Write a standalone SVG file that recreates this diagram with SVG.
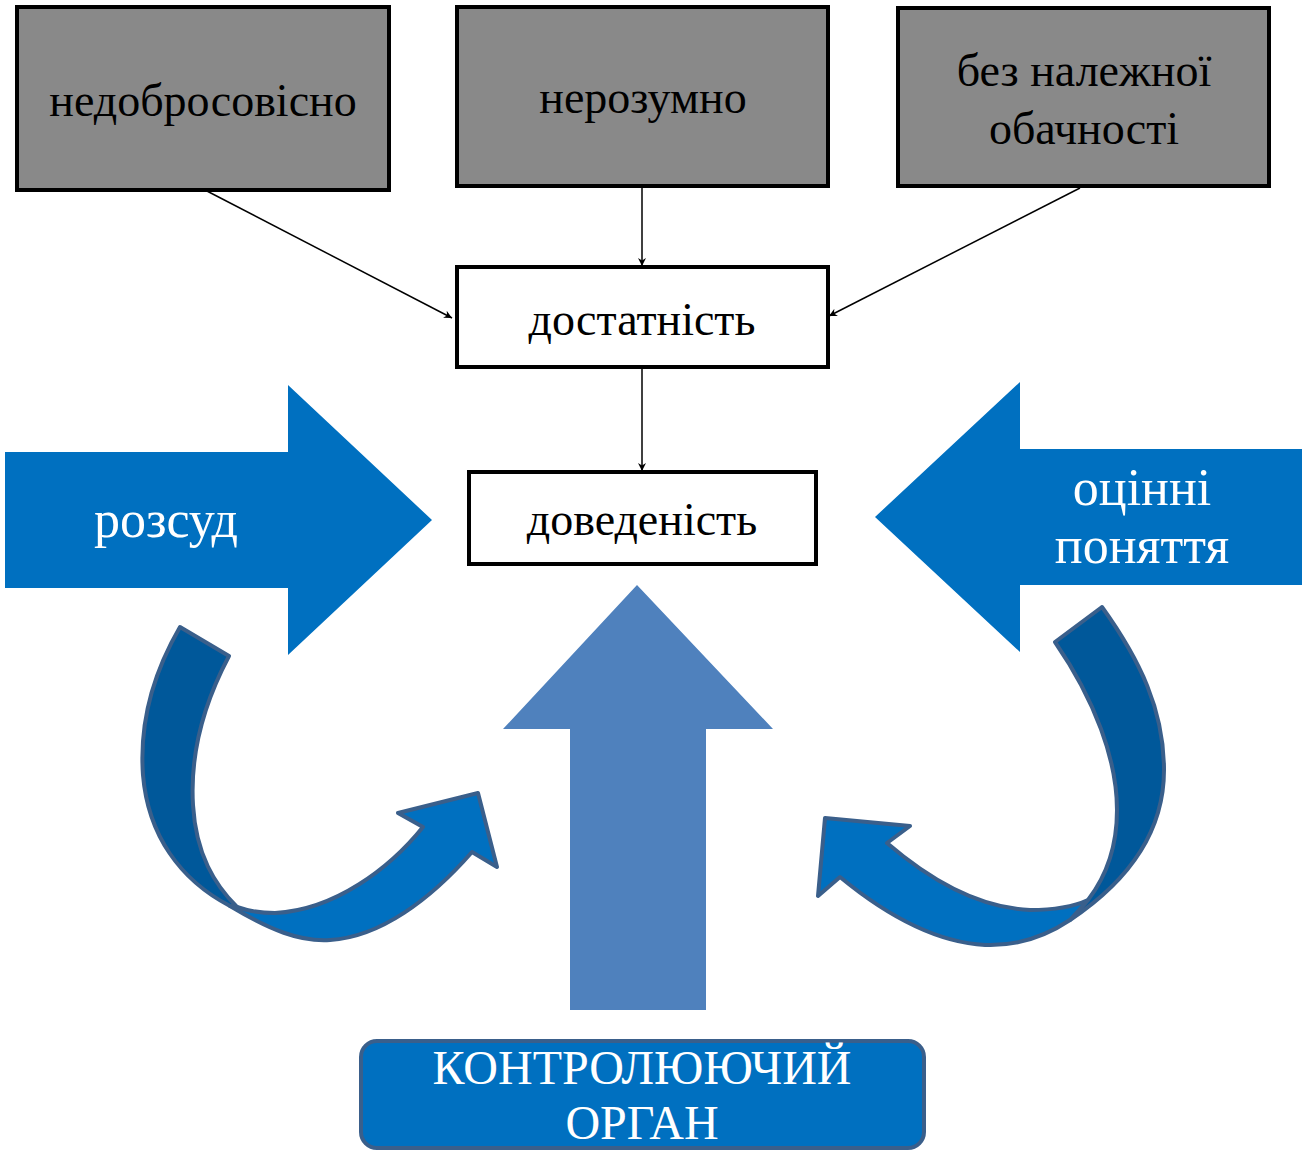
<svg xmlns="http://www.w3.org/2000/svg" width="1305" height="1153" viewBox="0 0 1305 1153">
<style>
.gray{fill:#898989;stroke:#000;stroke-width:4}
.white{fill:#fff;stroke:#000;stroke-width:4}
.t{font-family:"Liberation Serif","Times New Roman",serif;font-size:46px;fill:#000;text-anchor:middle}
.tw{font-family:"Liberation Serif","Times New Roman",serif;font-size:52px;fill:#fff;text-anchor:middle}
.tb{font-family:"Liberation Serif","Times New Roman",serif;font-size:48px;fill:#fff;text-anchor:middle}
.con{stroke:#000;stroke-width:1.5;fill:none;marker-end:url(#ah)}
.band{fill:#00589A;stroke:#3A5F8B;stroke-width:4;stroke-linejoin:round}
.curve{fill:#0070C0;stroke:#3A5F8B;stroke-width:4;stroke-linejoin:round}
</style>
<defs>
<marker id="ah" viewBox="0 0 10 10" refX="10" refY="5" markerWidth="8" markerHeight="8" markerUnits="userSpaceOnUse" orient="auto">
<path d="M0,0 L10,5 L0,10 L3,5 Z" fill="#000"/>
</marker>
</defs>
<g id="node-nedobrosovisno"><rect class="gray" x="17" y="7" width="372" height="183"/><text class="t" x="203" y="116">недобросовісно</text></g>
<g id="node-nerozumno"><rect class="gray" x="457" y="7" width="371" height="179"/><text class="t" x="643" y="113">нерозумно</text></g>
<g id="node-bez"><rect class="gray" x="898" y="8" width="371" height="178"/><text class="t" x="1084" y="86">без належної</text><text class="t" x="1084" y="144">обачності</text></g>
<g id="node-dostatnist"><rect class="white" x="457" y="267" width="371" height="100"/><text class="t" x="642" y="335">достатність</text></g>
<g id="node-dovedenist"><rect class="white" x="469" y="472" width="347" height="92"/><text class="t" x="642" y="535">доведеність</text></g>
<g id="connectors">
<line class="con" x1="205" y1="190" x2="452" y2="318"/>
<line class="con" x1="642" y1="186" x2="642" y2="266"/>
<line class="con" x1="1080" y1="188" x2="829" y2="316"/>
<line class="con" x1="642" y1="367" x2="642" y2="471"/>
</g>
<g id="node-rozsud"><path d="M5,452 L288,452 L288,385 L432,520 L288,655 L288,588 L5,588 Z" fill="#0070C0"/><text class="tw" x="166" y="537">розсуд</text></g>
<g id="node-otsinni"><path d="M1302,449 L1020,449 L1020,382 L875,517 L1020,652 L1020,585 L1302,585 Z" fill="#0070C0"/><text class="tw" x="1142" y="505">оцінні</text><text class="tw" x="1142" y="563">поняття</text></g>
<g id="node-up"><path d="M570,1010 L570,729 L503,729 L637,585 L773,729 L706,729 L706,1010 Z" fill="#4F81BD"/></g>
<g id="node-curve-left">
<path class="band" d="M180,627 L229,656 C203,705 190,755 193,805 C196,855 215,885 237,907 L230,906 C180,880 148,835 143,775 C139,720 155,670 180,627 Z"/>
<path class="curve" d="M230,906 C270,930 300,942 330,940 C380,937 430,900 472,852 L497,867 L478,793 L398,813 L423,827 C390,868 335,910 275,913 C260,913 248,911 237,907 Z"/>
</g>
<g id="node-curve-right">
<path class="band" d="M1102,607 L1055,642 C1095,700 1117,760 1117,810 C1117,850 1105,878 1088,900 L1070,920 C1130,880 1164,830 1164,770 C1164,710 1140,660 1102,607 Z"/>
<path class="curve" d="M1070,920 C1040,940 1010,946 985,945 C930,942 880,910 840,877 L818,896 L825,818 L910,826 L887,843 C930,880 980,908 1030,910 C1055,910 1075,906 1088,900 Z"/>
</g>
<g id="node-kontroliuiuchyi"><rect x="361" y="1041" width="563" height="107" rx="16" fill="#0070C0" stroke="#3A5F8B" stroke-width="4"/><text class="tb" x="642" y="1084">КОНТРОЛЮЮЧИЙ</text><text class="tb" x="642" y="1139">ОРГАН</text></g>
</svg>
